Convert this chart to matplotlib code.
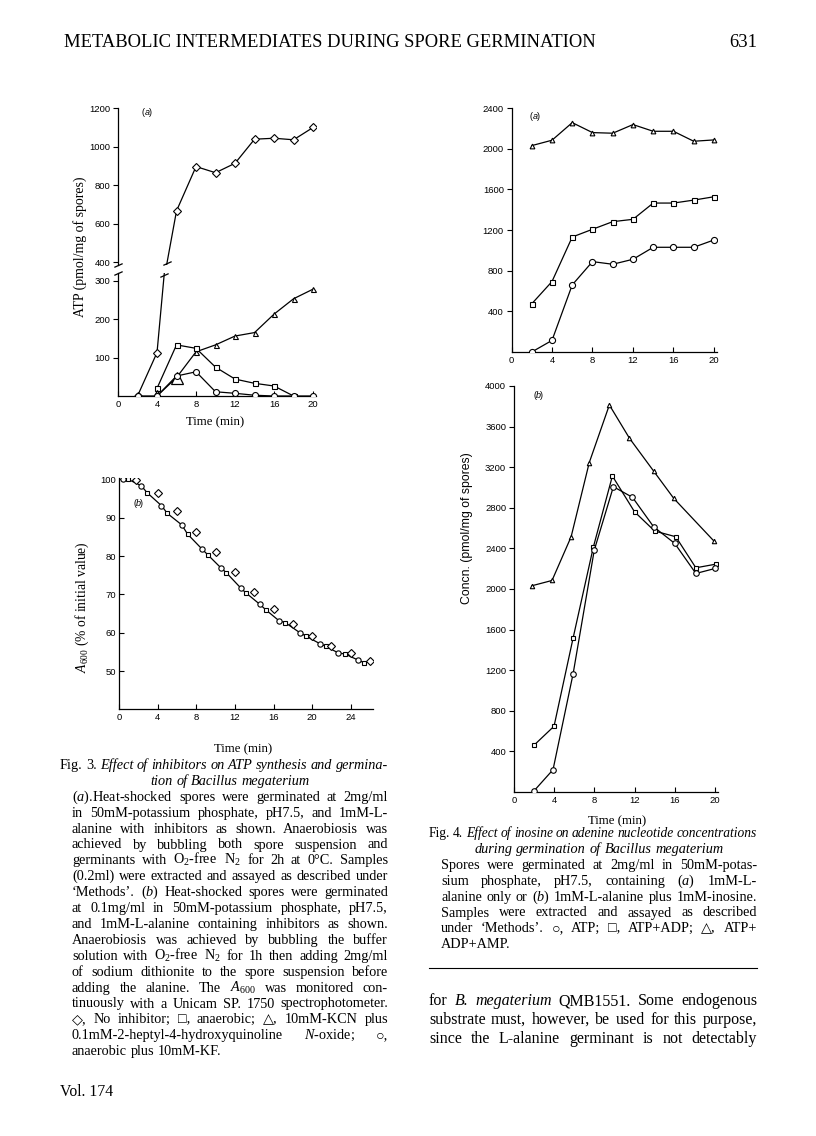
import matplotlib
matplotlib.use('Agg')
import matplotlib.pyplot as plt
import numpy as np

W, H = 816, 1136
plt.rcParams['mathtext.fontset'] = 'custom'
plt.rcParams['mathtext.rm'] = 'Liberation Serif'
plt.rcParams['mathtext.it'] = 'Liberation Serif:italic'
plt.rcParams['mathtext.bf'] = 'Liberation Serif:bold'
plt.rcParams['font.family'] = ['Liberation Sans', 'DejaVu Sans']

# ---------------- data ----------------
# Fig 3(a): ATP (pmol/mg of spores)
f3a_time = [2, 4, 6, 8, 10, 12, 14, 16, 18, 20]
f3a_no_inhibitor = [0, 113, 666, 896, 864, 913, 1038, 1043, 1035, 1099]
f3a_anaer_time = [4, 6, 8, 10, 12, 14, 16, 18]
f3a_anaerobic = [20, 133, 124, 75, 44, 33, 26, 0]
f3a_kcn_time = [4, 6, 8, 10, 12, 14, 16, 18, 20]
f3a_kcn = [0, 48, 115, 133, 156, 165, 213, 253, 278]
f3a_kf_time = [2, 4, 6, 8, 10, 12, 14, 16, 18, 20]
f3a_kf = [0, 0, 52, 63, 11, 7, 2, 0, 0, 0]

# Fig 3(b): A600 (% of initial value)
f3b_diam_time = [1.8, 4, 6, 8, 10, 12, 14, 16, 18, 20, 22, 24, 26]
f3b_no_inhibitor = [99.7, 96.3, 91.7, 86.2, 81.1, 75.8, 70.7, 66.1, 62.2, 59.3, 56.6, 54.7, 52.8]
f3b_circ_time = [0.4, 2.3, 4.4, 6.5, 8.6, 10.6, 12.6, 14.6, 16.6, 18.7, 20.8, 22.7, 24.7]
f3b_kf = [100, 98.3, 93.1, 88.1, 81.8, 76.8, 71.7, 67.4, 63.1, 60.1, 57.2, 54.8, 53.0]
f3b_sq_time = [0.9, 2.9, 5.0, 7.1, 9.2, 11.1, 13.1, 15.2, 17.2, 19.4, 21.4, 23.4, 25.4]
f3b_anaerobic = [100, 96.5, 91.1, 85.7, 80.3, 75.7, 70.5, 66.0, 62.7, 59.1, 56.5, 54.5, 52.2]

# Fig 4(a)
f4a_time = [2, 4, 6, 8, 10, 12, 14, 16, 18, 20]
f4a_atp = [0, 114, 660, 889, 863, 912, 1030, 1030, 1030, 1102]
f4a_atp_adp = [474, 693, 1131, 1207, 1282, 1305, 1465, 1465, 1494, 1527]
f4a_total = [2030, 2083, 2256, 2158, 2152, 2237, 2171, 2171, 2073, 2086]

# Fig 4(b)
f4b_tri_time = [1.8, 3.8, 5.7, 7.5, 9.5, 11.5, 13.9, 15.9, 19.9]
f4b_total = [2032, 2084, 2515, 3245, 3813, 3485, 3162, 2893, 2472]
f4b_sq_time = [2.0, 4.0, 5.9, 7.9, 9.8, 12.0, 14.0, 16.1, 18.1, 20.1]
f4b_atp_adp = [460, 648, 1519, 2410, 3113, 2761, 2571, 2515, 2209, 2245]
f4b_c_time = [2.0, 3.9, 5.9, 8.0, 9.9, 11.8, 13.9, 16.0, 18.1, 20.0]
f4b_atp = [10, 220, 1167, 2383, 3008, 2903, 2613, 2449, 2153, 2202]

x_ticks_20 = [0, 4, 8, 12, 16, 20]
x_ticks_26 = [0, 4, 8, 12, 16, 20, 24]

# ---------------- figure ----------------
fig = plt.figure(figsize=(W / 100, H / 100), dpi=100)
fig.patch.set_facecolor('white')
renderer = fig.canvas.get_renderer()

LW = 0.9
TICK_SIZE = 6.8


def add_axes_px(x0, y_top, x1, y_bot):
    return fig.add_axes([x0 / W, 1 - y_bot / H, (x1 - x0) / W, (y_bot - y_top) / H])


def style(ax, bottom=True, xdir='in', ydir='out'):
    for s in ['top', 'right']:
        ax.spines[s].set_visible(False)
    ax.spines['bottom'].set_visible(bottom)
    for s in ['left', 'bottom']:
        ax.spines[s].set_linewidth(LW)
    ax.patch.set_alpha(0)
    ax.tick_params(axis='y', direction=ydir, length=3.5, width=0.8,
                   labelsize=TICK_SIZE, pad=2)
    ax.tick_params(axis='x', direction=xdir, length=3.5, width=0.8,
                   labelsize=TICK_SIZE, pad=3)
    if not bottom:
        ax.tick_params(axis='x', bottom=False, labelbottom=False)


def series(ax, x, y, marker, ms, z=3, lw=LW):
    ax.plot(x, y, color='black', lw=lw, marker=marker, ms=ms,
            mfc='white', mec='black', mew=0.8, zorder=z, clip_on=True)


SLASH = [(-1, -0.45), (1, 0.45)]

# ----- Fig 3(a) upper / lower (broken axis) -----
ax3u = add_axes_px(118, 108, 316, 265)
ax3l = add_axes_px(118, 273, 316, 396)
for ax in (ax3u, ax3l):
    series(ax, f3a_time, f3a_no_inhibitor, 'D', 4.2, z=3)
    series(ax, f3a_anaer_time, f3a_anaerobic, 's', 3.6, z=4)
    series(ax, f3a_kcn_time, f3a_kcn, '^', 3.6, z=3)
    ax.plot(f3a_kcn_time[:2], f3a_kcn[:2], ls='none', marker='^', ms=8,
            mfc='white', mec='black', mew=0.9, zorder=5)
    series(ax, f3a_kf_time, f3a_kf, 'o', 4.3, z=6)
    ax.set_xlim(0, 20.3)
ax3u.set_ylim(385, 1200)
ax3l.set_ylim(0, 320)
ax3u.set_yticks([400, 600, 800, 1000, 1200])
ax3l.set_yticks([100, 200, 300])
ax3l.set_xticks(x_ticks_20)
style(ax3u, bottom=False)
style(ax3l)
# break marks on spine
ax3u.plot([0], [0], transform=ax3u.transAxes, marker=SLASH, ms=6, color='k',
          mew=0.9, clip_on=False, ls='none')
ax3l.plot([0], [1], transform=ax3l.transAxes, marker=SLASH, ms=6, color='k',
          mew=0.9, clip_on=False, ls='none')
# break marks on the no-inhibitor line where it leaves each axis
ya = np.array(f3a_no_inhibitor, float)
xa = np.array(f3a_time, float)
lo_top = ax3l.get_ylim()[1]
up_bot = ax3u.get_ylim()[0]
i = int(np.where((ya[:-1] < lo_top) & (ya[1:] > lo_top))[0][0])
x_lo = np.interp(lo_top, [ya[i], ya[i + 1]], [xa[i], xa[i + 1]])
x_up = np.interp(up_bot, [ya[i], ya[i + 1]], [xa[i], xa[i + 1]])
ax3l.plot([x_lo], [lo_top - 5], marker=SLASH, ms=6, color='k', mew=0.9,
          clip_on=False, ls='none', zorder=7)
ax3u.plot([x_up], [up_bot + 12], marker=SLASH, ms=6, color='k', mew=0.9,
          clip_on=False, ls='none', zorder=7)

# ----- Fig 3(b) -----
ax3b = add_axes_px(119, 478, 373, 709)
fit_t = np.array(f3b_circ_time + f3b_sq_time)
fit_v = np.array(f3b_kf + f3b_anaerobic)
order = np.argsort(fit_t)
ax3b.plot(fit_t[order], fit_v[order], color='black', lw=LW, zorder=2)
ax3b.plot(f3b_circ_time, f3b_kf, ls='none', marker='o', ms=3.8, mfc='white',
          mec='black', mew=0.8, zorder=4)
ax3b.plot(f3b_sq_time, f3b_anaerobic, ls='none', marker='s', ms=3.2, mfc='white',
          mec='black', mew=0.8, zorder=4)
ax3b.plot(f3b_diam_time, f3b_no_inhibitor, ls='none', marker='D', ms=4.3,
          mfc='white', mec='black', mew=0.8, zorder=4)
ax3b.set_xlim(0, 26.3)
ax3b.set_ylim(40.2, 100.3)
ax3b.set_yticks([50, 60, 70, 80, 90, 100])
ax3b.set_xticks(x_ticks_26)
style(ax3b, xdir='in', ydir='in')

# ----- Fig 4(a) -----
ax4a = add_axes_px(511.5, 108, 717, 352)
series(ax4a, f4a_time, f4a_total, '^', 3.4)
series(ax4a, f4a_time, f4a_atp_adp, 's', 3.6)
series(ax4a, f4a_time, f4a_atp, 'o', 4.4)
ax4a.set_xlim(0, 20.3)
ax4a.set_ylim(0, 2400)
ax4a.set_yticks([400, 800, 1200, 1600, 2000, 2400])
ax4a.set_xticks(x_ticks_20)
style(ax4a)

# ----- Fig 4(b) -----
ax4b = add_axes_px(513.8, 386, 718, 792)
series(ax4b, f4b_tri_time, f4b_total, '^', 3.2)
series(ax4b, f4b_sq_time, f4b_atp_adp, 's', 3.3)
series(ax4b, f4b_c_time, f4b_atp, 'o', 4.0)
ax4b.set_xlim(0, 20.3)
ax4b.set_ylim(0, 4000)
ax4b.set_yticks(list(range(400, 4001, 400)))
ax4b.set_xticks(x_ticks_20)
style(ax4b)

# ---------------- text ----------------
SERIF = ['Liberation Serif', 'DejaVu Serif']


def put(x, y, s, size, italic=False, family=None, **kw):
    kw.setdefault('ha', 'left')
    kw.setdefault('va', 'baseline')
    return fig.text(x / W, 1 - y / H, s, fontsize=size,
                    family=family or SERIF,
                    style='italic' if italic else 'normal', **kw)


def width_of(s, size, italic=False, family=None):
    t = put(0, 0, s, size, italic, family)
    w = t.get_window_extent(renderer).width
    t.remove()
    return w


def line(text, x0, x1, y, size, mode='j'):
    toks = []
    for t in text.split():
        it = len(t) > 2 and t.startswith('*') and t.endswith('*')
        toks.append((t[1:-1] if it else t, it))
    n = len(toks)
    for _ in range(3):
        widths = [width_of(t, size, it) for t, it in toks]
        space = width_of('a b', size) - width_of('ab', size)
        total = sum(widths)
        need = total + (n - 1) * space * 0.75
        if mode == 'j' and need > (x1 - x0):
            size *= (x1 - x0) / need
        else:
            break
    if mode == 'j' and n > 1:
        gap = (x1 - x0 - total) / (n - 1)
        x = x0
    else:
        gap = space
        lw = total + gap * (n - 1)
        x = x0 if mode == 'l' else (x0 + x1) / 2 - lw / 2
    for (t, it), w in zip(toks, widths):
        put(x, y, t, size, it)
        x += w + gap


# header
hdr = 'METABOLIC INTERMEDIATES DURING SPORE GERMINATION'
hsize = 11.0 * 534 / width_of(hdr, 11.0)
put(64, 47, hdr, hsize)
put(757, 47, '631', hsize, ha='right')

# caption font size fitted to column width
cap_size = 10.0 * 312 / width_of('(0.2ml) were extracted and assayed as described under', 10.0)

fig3_lines = [
    ('Fig. 3. *Effect* *of* *inhibitors* *on* *ATP* *synthesis* *and* *germina-*', 'j', 60),
    ('*tion* *of* *Bacillus* *megaterium*', 'c', 72),
    ('($\\mathit{a}$).Heat-shocked spores were germinated at 2mg/ml', 'j', 72),
    ('in 50mM-potassium phosphate, pH7.5, and 1mM-L-', 'j', 72),
    ('alanine with inhibitors as shown. Anaerobiosis was', 'j', 72),
    ('achieved by bubbling both spore suspension and', 'j', 72),
    ('germinants with O$_2$-free N$_2$ for 2h at 0°C. Samples', 'j', 72),
    ('(0.2ml) were extracted and assayed as described under', 'j', 72),
    ('\u2018Methods\u2019. ($\\mathit{b}$) Heat-shocked spores were germinated', 'j', 72),
    ('at 0.1mg/ml in 50mM-potassium phosphate, pH7.5,', 'j', 72),
    ('and 1mM-L-alanine containing inhibitors as shown.', 'j', 72),
    ('Anaerobiosis was achieved by bubbling the buffer', 'j', 72),
    ('solution with O$_2$-free N$_2$ for 1h then adding 2mg/ml', 'j', 72),
    ('of sodium dithionite to the spore suspension before', 'j', 72),
    ('adding the alanine. The $A_{600}$ was monitored con-', 'j', 72),
    ('tinuously with a Unicam SP. 1750 spectrophotometer.', 'j', 72),
    ('\u25c7, No inhibitor; \u25a1, anaerobic; \u25b3, 10mM-KCN plus', 'j', 72),
    ('0.1mM-2-heptyl-4-hydroxyquinoline $\\mathit{N}$-oxide; \u25cb,', 'j', 72),
    ('anaerobic plus 10mM-KF.', 'l', 72),
]
y0 = 769
for k, (txt, mode, xl) in enumerate(fig3_lines):
    line(txt, xl, 388, y0 + k * 15.9, cap_size, mode)
put(60, 1096, 'Vol. 174', cap_size * 1.1)

fig4_lines = [
    ('Fig. 4. *Effect* *of* *inosine* *on* *adenine* *nucleotide* *concentrations*', 'j', 429),
    ('*during* *germination* *of* *Bacillus* *megaterium*', 'c', 441),
    ('Spores were germinated at 2mg/ml in 50mM-potas-', 'j', 441),
    ('sium phosphate, pH7.5, containing ($\\mathit{a}$) 1mM-L-', 'j', 441),
    ('alanine only or ($\\mathit{b}$) 1mM-L-alanine plus 1mM-inosine.', 'j', 441),
    ('Samples were extracted and assayed as described', 'j', 441),
    ('under \u2018Methods\u2019. \u25cb, ATP; \u25a1, ATP+ADP; \u25b3, ATP+', 'j', 441),
    ('ADP+AMP.', 'l', 441),
]
y0 = 837
for k, (txt, mode, xl) in enumerate(fig4_lines):
    line(txt, xl, 757, y0 + k * 15.9, cap_size, mode)

fig.add_artist(plt.Line2D([429 / W, 757 / W], [1 - 968 / H, 1 - 968 / H],
                          color='black', lw=0.8))

body_size = 11.0 * 318 / width_of('substrate must, however, be used for this purpose,', 11.0)
body = [
    'for *B.* *megaterium* QMB1551. Some endogenous',
    'substrate must, however, be used for this purpose,',
    'since the L-alanine germinant is not detectably',
]
for k, txt in enumerate(body):
    line(txt, 429, 757, 1005 + k * 19, body_size, 'j')

# axis labels
put(215, 425, 'Time (min)', 9.2, ha='center')
put(243, 752, 'Time (min)', 9.2, ha='center')
put(617, 824, 'Time (min)', 9.2, ha='center')
put(80, 247, 'ATP (pmol/mg of spores)', 10, ha='center', va='center', rotation=90)
put(82, 607, '$A_{600}$ (% of initial value)', 9.8, ha='center', va='center', rotation=90)
put(467, 528, 'Concn. (pmol/mg of spores)', 8.8, ha='center', va='center', rotation=90,
    family=['Liberation Sans'])

# panel letters
for (x, y, s) in [(142, 115, '(a)'), (530, 119, '(a)'), (133, 506, '(b)'), (533, 398, '(b)')]:
    put(x, y, '(', 6.5, family=['Liberation Sans'])
    put(x + 2.5, y, s[1], 6.5, italic=True, family=['Liberation Sans'])
    put(x + 7, y, ')', 6.5, family=['Liberation Sans'])

fig.savefig('out.png', dpi=100, facecolor='white')
